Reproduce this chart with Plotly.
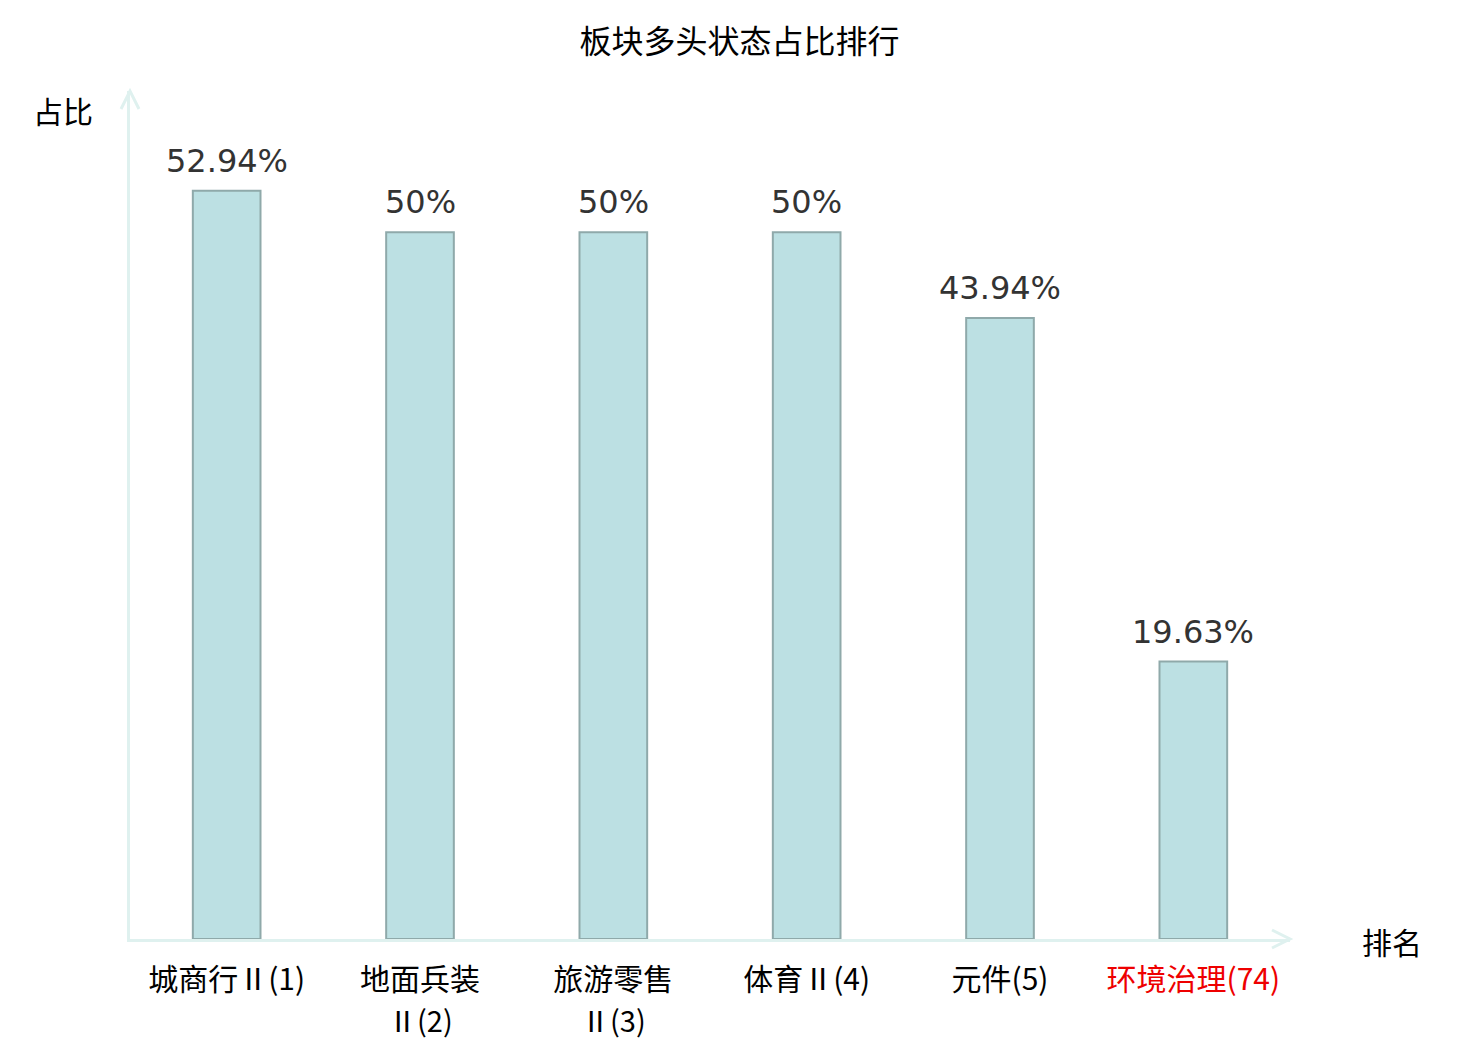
import plotly.graph_objects as go

categories = ["城商行Ⅱ(1)", "地面兵装Ⅱ(2)", "旅游零售Ⅱ(3)", "体育Ⅱ(4)", "元件(5)", "环境治理(74)"]
tick_line1 = ["城商行Ⅱ(1)", "地面兵装", "旅游零售", "体育Ⅱ(4)", "元件(5)", "环境治理(74)"]
tick_line2 = ["", "Ⅱ(2)", "Ⅱ(3)", "", "", ""]
values = [52.94, 50, 50, 50, 43.94, 19.63]
highlight = [False, False, False, False, False, True]
value_labels = [f"{v:g}%" for v in values]

CJK = "Noto Sans CJK SC"
AXIS_COLOR = "#dff1ef"
W, H = 1472, 1032  # page adds an 8px body margin

ticktext = [f"<span style='color:#ee0000'>{t}</span>" if h else t
            for t, h in zip(tick_line1, highlight)]

fig = go.Figure(go.Bar(
    x=categories, y=values, width=0.35,
    marker=dict(color="#bce0e3", line=dict(color="#8fa9aa", width=2)),
    hoverinfo="x+y",
))

annotations = []
for c, v, lab in zip(categories, values, value_labels):
    annotations.append(dict(x=c, y=v, xref="x", yref="y", text=lab, showarrow=False,
                            yanchor="bottom", yshift=9,
                            font=dict(family="DejaVu Sans", size=32, color="#333333")))
for c, t2, h in zip(categories, tick_line2, highlight):
    if t2:
        annotations.append(dict(x=c, y=0, xref="x", yref="paper", text=t2, showarrow=False,
                                xanchor="center", yanchor="middle", yshift=-80,
                                font=dict(family=CJK, size=29,
                                          color="#ee0000" if h else "#000000")))
annotations.append(dict(x=0, y=1, xref="paper", yref="paper", text="占比", showarrow=False,
                        xanchor="center", yanchor="middle", xshift=-67, yshift=-19,
                        font=dict(family=CJK, size=30, color="#000000")))
annotations.append(dict(x=1, y=0, xref="paper", yref="paper", text="排名", showarrow=False,
                        xanchor="center", yanchor="middle", xshift=102, yshift=-2,
                        font=dict(family=CJK, size=30, color="#000000")))

shapes = [
    dict(type="path", xref="paper", yref="paper", xsizemode="pixel", ysizemode="pixel",
         xanchor=1, yanchor=0, path="M -18,9 L 0,0 L -18,-9",
         line=dict(color=AXIS_COLOR, width=3)),
    dict(type="path", xref="paper", yref="paper", xsizemode="pixel", ysizemode="pixel",
         xanchor=0, yanchor=1, path="M -9,-18 L 0,0 L 9,-18",
         line=dict(color=AXIS_COLOR, width=3)),
]

fig.update_layout(
    width=W, height=H,
    margin=dict(l=122, r=190, t=83, b=101, autoexpand=False),
    paper_bgcolor="white", plot_bgcolor="white",
    showlegend=False,
    title=dict(text="板块多头状态占比排行", x=(739.5 - 8) / W, xref="container", xanchor="center",
               y=1 - 34 / H, yref="container", yanchor="middle",
               font=dict(family=CJK, size=32, color="#000000")),
    annotations=annotations,
    shapes=shapes,
    xaxis=dict(type="category", range=[-0.5, 5.5], showgrid=False, zeroline=False,
               showline=True, linecolor=AXIS_COLOR, linewidth=3, automargin=False,
               tickmode="array", tickvals=categories, ticktext=ticktext,
               ticks="", ticklabelstandoff=12,
               tickfont=dict(family=CJK, size=30, color="#000000")),
    yaxis=dict(range=[0, 60], showgrid=False, zeroline=False, showticklabels=False,
               automargin=False,
               showline=True, linecolor=AXIS_COLOR, linewidth=3, ticks=""),
)

fig.write_html("out.html")
